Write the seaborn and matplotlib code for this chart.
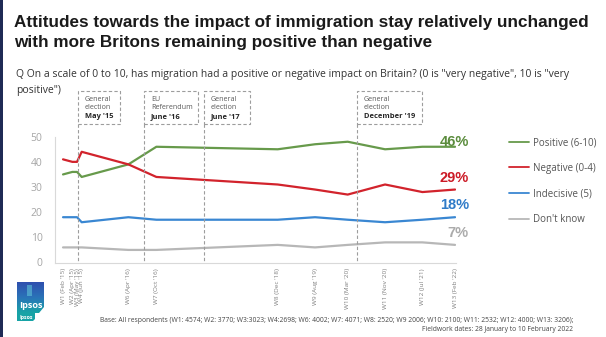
import numpy as np
import pandas as pd
import matplotlib
matplotlib.use("Agg")
import matplotlib.pyplot as plt
import matplotlib.transforms as mtransforms
from matplotlib.patches import Rectangle, Polygon
import seaborn as sns

# ---- data -------------------------------------------------------------
waves = ["W1", "W2", "W3", "W4", "W6", "W7", "W8", "W9", "W10", "W11", "W12", "W13"]
fieldwork = ["Feb '15", "Apr '15", "May '15", "Jun '15", "Apr '16", "Oct '16",
             "Dec '18", "Aug '19", "Mar '20", "Nov '20", "Jul '21", "Feb '22"]
fieldwork_month = ["2015-02", "2015-04", "2015-05", "2015-06", "2016-04", "2016-10",
                   "2018-12", "2019-08", "2020-03", "2020-11", "2021-07", "2022-02"]

positive = [35, 36, 36, 34, 39, 46, 45, 47, 48, 45, 46, 46]
negative = [41, 40, 40, 44, 39, 34, 31, 29, 27, 31, 28, 29]
indecisive = [18, 18, 18, 16, 18, 17, 17, 18, 17, 16, 17, 18]
dont_know = [6, 6, 6, 6, 5, 5, 7, 6, 7, 8, 8, 7]

series_names = ["Positive (6-10)", "Negative (0-4)", "Indecisive (5)", "Don't know"]
series_values = [positive, negative, indecisive, dont_know]

events = ["General\nelection", "EU\nReferendum", "General\nelection", "General\nelection"]
event_dates = ["May '15", "June '16", "June '17", "December '19"]

y_ticks = [0, 10, 20, 30, 40, 50]

# ---- styling ----------------------------------------------------------
line_colors = ["#679a4b", "#d2232c", "#3a87d2", "#b7b7b7"]
label_colors = ["#5b8c3d", "#cc1a26", "#2f7bc8", "#ababab"]
W, H = 606, 337


def fx(px):
    return px / W


def fy(py):
    return 1 - py / H


def to_year(s):
    y, m = s.split("-")
    return int(y) + (int(m) - 1) / 12


t = [to_year(s) for s in fieldwork_month]
df = pd.DataFrame({
    "t": np.tile(t, len(series_names)),
    "value": np.concatenate(series_values),
    "series": np.repeat(series_names, len(t)),
})

sns.set_theme(style="white")
plt.rcParams["font.family"] = ["Open Sans", "DejaVu Sans"]

fig = plt.figure(figsize=(W / 100, H / 100), dpi=100)
fig.patch.set_facecolor("white")
ax = fig.add_axes([fx(55), fy(262.5), fx(456) - fx(55), (262.5 - 136.7) / H])

sns.lineplot(data=df, x="t", y="value", hue="series", hue_order=series_names,
             palette=line_colors, linewidth=1.6, ax=ax, legend=True)

ax.set_xlim(2014.94, 2022.10)
ax.set_ylim(0, 50)
ax.set_yticks(y_ticks)
ax.set_yticklabels([str(v) for v in y_ticks], color="#a6a6a6", fontsize=7.5)
ax.set_xticks(t)
ax.set_xticklabels([f"{w} ({d})" for w, d in zip(waves, fieldwork)],
                   rotation=90, fontsize=4.6, color="#7f7f7f", va="top")
ax.tick_params(axis="both", length=0)
ax.tick_params(axis="y", pad=9)
ax.tick_params(axis="x", pad=4)
ax.set_xlabel("")
ax.set_ylabel("")
for side in ["top", "right"]:
    ax.spines[side].set_visible(False)
for side in ["left", "bottom"]:
    ax.spines[side].set_color("#d9d9d9")
    ax.spines[side].set_linewidth(0.8)
ax.patch.set_alpha(0)

# legend on the right
handles, labels = ax.get_legend_handles_labels()
leg = ax.legend(handles, labels, loc="upper left", bbox_to_anchor=(fx(500), fy(128.5)),
                bbox_transform=fig.transFigure, frameon=False, fontsize=7.0,
                handlelength=2.1, handletextpad=0.35, labelspacing=1.5)
for txt in leg.get_texts():
    txt.set_color("#555555")
for ln in leg.get_lines():
    ln.set_linewidth(1.3)

# end-of-line value labels
label_dy = [3.5, 8.5, 8.5, 8.5]
for vals, col, dy in zip(series_values, label_colors, label_dy):
    ax.annotate(f"{vals[-1]}%", xy=(t[-1], vals[-1]), xytext=(10, dy),
                textcoords="offset points", ha="right", va="center",
                fontsize=10.5, fontweight="bold", color=col,
                family=["Liberation Sans", "DejaVu Sans"])

# event markers: dashed box with caption and a dashed drop line
blend = mtransforms.blended_transform_factory(ax.transData, fig.transFigure)
event_x = [2015.35, 2016.53, 2017.60, 2020.33]
box_w = [0.75, 0.96, 0.82, 1.16]
box_top, box_bot = fy(91), fy(124)
for x0, bw, lab, dt in zip(event_x, box_w, events, event_dates):
    ax.add_artist(Rectangle((x0, box_bot), bw, box_top - box_bot, transform=blend,
                            fill=False, edgecolor="#9d9d9d", linewidth=0.8,
                            linestyle=(0, (3, 2)), clip_on=False))
    ax.plot([x0, x0], [box_bot, fy(262.5)], transform=blend, color="#9d9d9d",
            linewidth=0.8, linestyle=(0, (3, 2)), clip_on=False)
    ax.text(x0 + 0.12, fy(103.5), lab, transform=blend, fontsize=5.1, color="#595959",
            va="center", ha="left", linespacing=1.25)
    ax.text(x0 + 0.12, fy(117), dt, transform=blend, fontsize=5.4, color="#262626",
            va="center", ha="left", fontweight="bold")

# titles and notes
title_font = ["Liberation Sans", "DejaVu Sans"]
fig.text(fx(14), fy(22), "Attitudes towards the impact of immigration stay relatively unchanged",
         fontsize=12.3, fontweight="bold", color="#1a1a1a", va="center", family=title_font)
fig.text(fx(14), fy(42), "with more Britons remaining positive than negative",
         fontsize=12.3, fontweight="bold", color="#1a1a1a", va="center", family=title_font)
fig.text(fx(16), fy(75), "Q On a scale of 0 to 10, has migration had a positive or negative "
         "impact on Britain? (0 is \"very negative\", 10 is \"very", fontsize=7.5,
         color="#333333", va="center")
fig.text(fx(16), fy(90), "positive\")", fontsize=7.5, color="#333333", va="center")
fig.text(fx(573), fy(320), "Base: All respondents (W1: 4574; W2: 3770; W3:3023; W4:2698; "
         "W6: 4002; W7: 4071; W8: 2520; W9 2006; W10: 2100; W11: 2532; W12: 4000; W13: 3206);",
         fontsize=4.9, color="#444444", ha="right", va="center")
fig.text(fx(573), fy(329.5), "Fieldwork dates: 28 January to 10 February 2022",
         fontsize=4.9, color="#444444", ha="right", va="center")

# dark band down the left edge
fig.add_artist(Rectangle((0, 0), fx(3), 1, transform=fig.transFigure,
                         facecolor="#1f2a55", edgecolor="none"))

# logo block
lax = fig.add_axes([fx(17), fy(321), fx(44) - fx(17), (321 - 282) / H])
lax.set_xlim(0, 27)
lax.set_ylim(0, 39)
lax.axis("off")
grad = np.linspace(0, 1, 64).reshape(-1, 1)
cmap = matplotlib.colors.LinearSegmentedColormap.from_list("lg", ["#2f4fae", "#2a74b8", "#17a3a6"])
img = lax.imshow(grad, extent=(0, 27, 8, 39), origin="upper", cmap=cmap, aspect="auto")
shape = Polygon([(0, 8), (0, 39), (27, 39), (27, 14), (22, 8)], closed=True,
                transform=lax.transData, facecolor="none", edgecolor="none")
lax.add_patch(shape)
img.set_clip_path(shape)
lax.add_patch(Polygon([(0, 0), (0, 8), (18, 8), (18, 2), (16, 0)], closed=True,
                      facecolor="#17a3a6", edgecolor="none"))
lax.add_patch(Rectangle((10, 25), 5, 11, facecolor="#5fc3d8", edgecolor="none", alpha=0.6))
lax.text(13.5, 15, "Ipsos", color="white", fontsize=6.6, fontweight="bold",
         ha="center", va="center")
lax.text(9, 4, "Ipsos", color="white", fontsize=3.8, fontweight="bold",
         ha="center", va="center")

fig.savefig("out.png", dpi=100, facecolor="white")
